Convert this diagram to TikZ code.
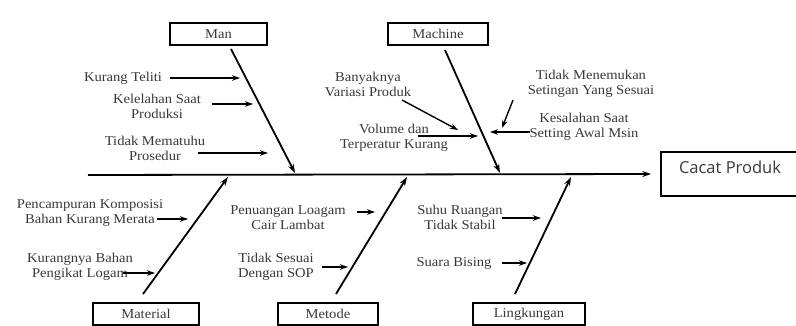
\documentclass[tikz,border=0pt]{standalone}
\usepackage{fontspec}
\setmainfont{Liberation Serif}[FakeStretch=1.08]
\newfontfamily\cpfont{Open Sans}
\usetikzlibrary{arrows.meta}
\definecolor{txt}{gray}{0.22}
\tikzset{
  catbox/.style={draw=black, line width=1.7pt, minimum height=22pt, inner sep=0pt,
    text=txt, font=\fontsize{13.5}{15}\selectfont},
  lbl/.style={text=txt, align=center, inner sep=0pt, font=\fontsize{13.5}{15}\selectfont},
  spine/.style={line width=1.8pt, -{Stealth[length=9pt,width=6pt]}},
  sub/.style={line width=1.4pt, -{Stealth[length=8pt,width=5.5pt]}},
}
\begin{document}
\begin{tikzpicture}[x=1pt,y=-1pt]
\useasboundingbox (0,0) rectangle (796,326);
% category boxes
\node[catbox, minimum width=97pt]  (man)  at (218.5,34) {Man};
\node[catbox, minimum width=100pt] (mach) at (438,34)   {Machine};
\node[catbox, minimum width=106pt] (mat)  at (146,314)  {Material};
\node[catbox, minimum width=100pt] (met)  at (328,314)  {Metode};
\node[catbox, minimum width=112pt] (ling) at (529,314)  {Lingkungan};
% effect box
\node[draw=black, line width=1.7pt, minimum width=137pt, minimum height=44pt, inner sep=0pt] (cp) at (729.5,174) {};
\node[text=txt, inner sep=0pt, font=\cpfont\fontsize{16.5}{18}\selectfont] (cpt) at (730,167) {Cacat Produk};
% main backbone
\coordinate (mainL) at (88,175);
\draw[spine] (mainL) -- ([xshift=-9pt]cp.west);
% spine coordinates
\coordinate (manA) at (231,49);   \coordinate (manB) at (295,173);
\coordinate (machA) at (445,50);  \coordinate (machB) at (500,173);
\coordinate (matA) at (143,294);  \coordinate (matB) at (228,177);
\coordinate (metA) at (336,294);  \coordinate (metB) at (407,177);
\coordinate (lingA) at (515,294); \coordinate (lingB) at (571,177);
\draw[spine] (manA) -- (manB);
\draw[spine] (machA) -- (machB);
\draw[spine] (matA) -- (matB);
\draw[spine] (metA) -- (metB);
\draw[spine] (lingA) -- (lingB);
% Man causes
\node[lbl] (m1) at (123,78) {Kurang Teliti};
\node[lbl] (m2) at (157,106) {Kelelahan Saat\\Produksi};
\node[lbl] (m3) at (155,148.5) {Tidak Mematuhu\\Prosedur};
\coordinate (m1a) at (170,78);  \coordinate (m1b) at (240,78);
\coordinate (m2a) at (212,104); \coordinate (m2b) at (253,104);
\coordinate (m3a) at (198,153); \coordinate (m3b) at (268,153);
\draw[sub] (m1a) -- (m1b);
\draw[sub] (m2a) -- (m2b);
\draw[sub] (m3a) -- (m3b);
% Machine causes
\node[lbl] (c1) at (368,84) {Banyaknya\\Variasi Produk};
\node[lbl] (c2) at (394,137.5) {Volume dan\\Terperatur Kurang};
\node[lbl] (c3) at (591,84) {Tidak Menemukan\\Setingan Yang Sesuai};
\node[lbl] (c4) at (584,127) {Kesalahan Saat\\Setting Awal Msin};
\coordinate (c1a) at (402,100); \coordinate (c1b) at (458,130);
\coordinate (c2a) at (418,136); \coordinate (c2b) at (478,136);
\coordinate (c3a) at (513,100); \coordinate (c3b) at (502,128);
\coordinate (c4a) at (530,132); \coordinate (c4b) at (490,132);
\draw[sub] (c1a) -- (c1b);
\draw[sub] (c2a) -- (c2b);
\draw[sub] (c3a) -- (c3b);
\draw[sub] (c4a) -- (c4b);
% Material causes
\node[lbl] (t1) at (90,213) {Pencampuran Komposisi\\Bahan Kurang Merata};
\node[lbl] (t2) at (80,267) {Kurangnya Bahan\\Pengikat Logam};
\coordinate (t1a) at (157,219); \coordinate (t1b) at (188,219);
\coordinate (t2a) at (123,273); \coordinate (t2b) at (155,273);
\draw[sub] (t1a) -- (t1b);
\draw[sub] (t2a) -- (t2b);
% Metode causes
\node[lbl] (e1) at (288,218) {Penuangan Loagam\\Cair Lambat};
\node[lbl] (e2) at (276,267) {Tidak Sesuai\\Dengan SOP};
\coordinate (e1a) at (357,212); \coordinate (e1b) at (375,212);
\coordinate (e2a) at (322,267); \coordinate (e2b) at (348,267);
\draw[sub] (e1a) -- (e1b);
\draw[sub] (e2a) -- (e2b);
% Lingkungan causes
\node[lbl] (l1) at (460,217) {Suhu Ruangan\\Tidak Stabil};
\node[lbl] (l2) at (454,263) {Suara Bising};
\coordinate (l1a) at (502,218); \coordinate (l1b) at (541,218);
\coordinate (l2a) at (502,263); \coordinate (l2b) at (527,263);
\draw[sub] (l1a) -- (l1b);
\draw[sub] (l2a) -- (l2b);
\end{tikzpicture}
\end{document}
